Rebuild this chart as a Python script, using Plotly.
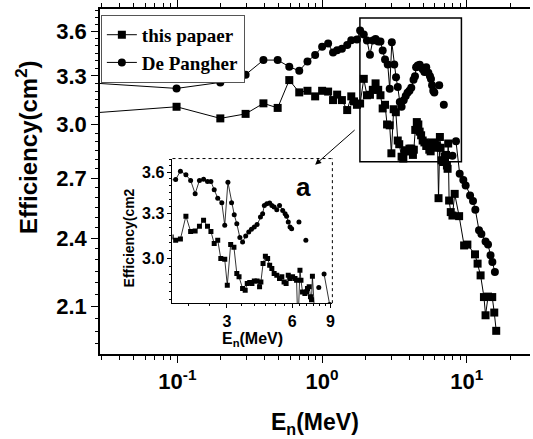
import math
import plotly.graph_objects as go

# ---------------- data ----------------
# "this papaer" (squares): neutron energy (MeV) and efficiency (cm^2)
x_this = [0.01, 0.0987, 0.198, 0.296, 0.393, 0.493, 0.593, 0.695, 0.792, 0.895, 1.0, 1.10,
          1.19, 1.27, 1.37, 1.49, 1.59, 1.66, 1.74, 1.83, 1.94, 2.04, 2.14, 2.24, 2.34, 2.44,
          2.53, 2.62, 2.72, 2.81, 2.93, 3.01, 3.12, 3.23, 3.33, 3.41, 3.54, 3.64, 3.72, 3.82,
          3.91, 4.01, 4.13, 4.24, 4.30, 4.40, 4.51, 4.62, 4.72, 4.83, 4.95, 5.09, 5.24, 5.37,
          5.50, 5.62, 5.75, 5.86, 6.02, 6.18, 6.28, 6.37, 6.51, 6.58, 6.69, 6.86, 6.98, 7.05,
          7.18, 7.28, 7.36, 7.43, 7.54, 7.74, 7.95, 8.24, 8.84, 9.57, 10.08, 11.38, 11.86,
          12.44, 13.12, 13.46, 14.0, 14.97, 15.46, 15.95]
y_this = [3.042, 3.106, 3.036, 3.063, 3.127, 3.099, 3.273, 3.195, 3.205, 3.170, 3.205, 3.200,
          3.147, 3.181, 3.147, 3.086, 3.170, 3.139, 3.118, 3.126, 3.281, 3.177, 3.180, 3.211,
          3.252, 3.211, 3.177, 3.096, 3.118, 3.000, 2.995, 2.835, 3.091, 3.073, 2.907, 2.886,
          2.816, 2.806, 2.846, 2.852, 2.846, 2.861, 2.861, 2.826, 2.855, 2.968, 3.014, 3.000,
          2.958, 2.937, 2.907, 2.896, 2.876, 2.886, 2.855, 2.846, 2.896, 2.876, 2.886, 2.876,
          2.866, 2.596, 2.927, 2.866, 2.796, 2.787, 2.796, 2.816, 2.826, 2.768, 2.750, 2.890,
          2.584, 2.526, 2.509, 2.618, 2.506, 2.366, 2.370, 2.325, 2.283, 2.231, 2.138, 2.063,
          2.140, 2.138, 2.074, 2.001]

# "De Pangher" (circles); None = break in the line
x_dp = [0.01, 0.0987, 0.198, 0.296, 0.393, 0.493, 0.593, 0.695, 0.792, 0.895, 1.0, 1.10,
        1.19, 1.27, 1.37, 1.49, 1.59, 1.74, 1.83, 1.94, 2.04, 2.14, 2.24, 2.34, 2.44, 2.53,
        2.62, 2.72, 2.84, 2.93, 3.03, 3.15, 3.24, 3.33, 3.44, 3.54, 3.66, 3.78, 3.89, 4.01,
        4.13, 4.28, 4.38, 4.46, 4.58, 4.72, 4.83, 4.95, 5.09, 5.24, 5.42, 5.56, 5.65, 5.75,
        5.86, 5.96, None, 6.44, None, 6.93, None, 7.95, None, 8.41, 8.92, 9.45, 9.81, 10.52,
        11.03, 11.44, 12.13, 12.6, 13.46, 14.0, 14.57, 15.0, 15.62]
y_dp = [3.279, 3.220, 3.258, 3.308, 3.404, 3.404, 3.360, 3.333, 3.395, 3.439, 3.494, 3.516,
        3.455, 3.471, 3.480, 3.507, 3.540, 3.545, 3.608, 3.580, 3.538, 3.440, 3.538, 3.547,
        3.530, 3.530, 3.469, 3.408, 3.375, 3.218, 3.525, 3.375, 3.291, 3.229, 3.136, 3.106,
        3.146, 3.173, 3.192, 3.206, 3.224, 3.275, 3.298, 3.356, 3.368, 3.373, 3.356, 3.344,
        3.326, 3.356, 3.321, 3.298, 3.280, 3.240, 3.206, 3.195, None, 3.240, None, 3.118,
        None, 2.822, None, 2.903, 2.723, 2.690, 2.662, 2.610, 2.581, 2.538, 2.437, 2.420,
        2.384, 2.370, 2.321, 2.290, 2.246]

names = ["this papaer", "De Pangher"]
y_ticks = [2.1, 2.4, 2.7, 3.0, 3.3, 3.6]
x_ticks = [0.1, 1, 10]
x_ticklabels = ["10<sup>-1</sup>", "10<sup>0</sup>", "10<sup>1</sup>"]
y_ticks_inset = [3.0, 3.3, 3.6]
x_ticks_inset = [3, 6, 9]
zoom_box_x = [1.824, 9.17]     # MeV, region enlarged in inset "a"
zoom_box_y = [2.789, 3.697]

# ---------------- figure ----------------
W, H = 533, 439
fig = go.Figure()

for xs, ys, sym, nm in [(x_this, y_this, "square", names[0]), (x_dp, y_dp, "circle", names[1])]:
    fig.add_trace(go.Scatter(x=xs, y=ys, mode="lines+markers", name=nm,
                             line=dict(color="black", width=1),
                             marker=dict(symbol=sym, size=8, color="black"),
                             connectgaps=False, xaxis="x", yaxis="y", cliponaxis=True))
    fig.add_trace(go.Scatter(x=xs, y=ys, mode="lines+markers", showlegend=False,
                             line=dict(color="black", width=0.8),
                             marker=dict(symbol=sym, size=5, color="black"),
                             connectgaps=False, xaxis="x2", yaxis="y2", cliponaxis=True))

AR = "Arial, Liberation Sans"
axis_font = dict(family=AR, size=22, color="black", weight="bold")
inset_font = dict(family=AR, size=16, color="black", weight="bold")

minor_y = [round(1.95 + 0.05 * i, 2) for i in range(0, 38)]
minor_x_inset = [2, 2.5, 3.5, 4, 4.5, 5, 5.5, 6.5, 7, 7.5, 8, 8.5]

fig.update_layout(
    width=W, height=H,
    margin=dict(l=100, r=0, t=8, b=85),
    paper_bgcolor="white", plot_bgcolor="white",
    showlegend=True,
    legend=dict(x=0.002, y=0.983, xanchor="left", yanchor="top",
                bordercolor="#555", borderwidth=1, bgcolor="white",
                font=dict(family="Liberation Serif", size=19, color="black", weight="bold"),
                itemwidth=30, tracegroupgap=0),
    xaxis=dict(type="log", range=[math.log10(0.0292), math.log10(27.3)],
               showline=True, linecolor="black", linewidth=1.5, mirror="ticks",
               ticks="outside", ticklen=7, tickwidth=1.2, tickcolor="black",
               tickvals=x_ticks, ticktext=x_ticklabels,
               showgrid=False, zeroline=False, tickfont=axis_font,
               minor=dict(ticks="outside", ticklen=4, tickcolor="black", showgrid=False,
                          tickvals=[m * 10 ** e for e in (-2, -1, 0, 1) for m in range(2, 10)])),
    yaxis=dict(type="log", range=[math.log10(1.912), math.log10(3.763)],
               showline=True, linecolor="black", linewidth=1.5,
               ticks="outside", ticklen=7, tickwidth=1.2, tickcolor="black",
               tickvals=y_ticks, ticktext=[f"{v:.1f}" for v in y_ticks],
               showgrid=False, zeroline=False, tickfont=axis_font,
               minor=dict(ticks="outside", ticklen=3, tickcolor="black",
                          tickvals=minor_y, showgrid=False)),
    xaxis2=dict(type="log", domain=[0.1686, 0.5404], anchor="y2",
                range=[0.226, 0.963], showline=True, linecolor="black", linewidth=1,
                ticks="outside", ticklen=4, tickcolor="black",
                tickvals=x_ticks_inset, ticktext=[str(v) for v in x_ticks_inset],
                showgrid=False, zeroline=False, tickfont=inset_font,
                minor=dict(ticks="outside", ticklen=2, tickcolor="black",
                           tickvals=minor_x_inset, showgrid=False)),
    yaxis2=dict(type="log", domain=[0.1474, 0.5665], anchor="x2",
                range=[0.4362, 0.5688], showline=True, linecolor="black", linewidth=1,
                ticks="outside", ticklen=4, tickcolor="black",
                tickvals=y_ticks_inset, ticktext=[f"{v:.1f}" for v in y_ticks_inset],
                showgrid=False, zeroline=False, tickfont=inset_font,
                minor=dict(ticks="outside", ticklen=2, tickcolor="black",
                           tickvals=minor_y, showgrid=False)),
)

# inset dotted top/right frame
fig.add_shape(type="line", xref="x2 domain", yref="y2 domain", x0=0, x1=1, y0=1, y1=1,
              line=dict(color="black", width=1, dash="dot"))
fig.add_shape(type="line", xref="x2 domain", yref="y2 domain", x0=1, x1=1, y0=0, y1=1,
              line=dict(color="black", width=1, dash="dot"))

# zoom box in main plot
fig.add_shape(type="rect", xref="x", yref="y",
              x0=zoom_box_x[0], x1=zoom_box_x[1], y0=zoom_box_y[0], y1=zoom_box_y[1],
              line=dict(color="black", width=1.5))

# arrow from box to inset
fig.add_annotation(xref="x", yref="y", x=math.log10(0.895), y=math.log10(2.772),
                   ax=41, ay=-36, showarrow=True, arrowhead=2, arrowsize=1.2,
                   arrowwidth=1, arrowcolor="black", text="")

# titles
fig.add_annotation(xref="paper", yref="paper", x=-0.17, y=0.6, xanchor="center", yanchor="middle",
                   text="Efficiency(cm<sup>2</sup>)", textangle=-90, showarrow=False,
                   font=dict(family=AR, size=24, color="black", weight="bold"))
fig.add_annotation(xref="paper", yref="paper", x=0.5, y=-0.2, xanchor="center", yanchor="middle",
                   text="E<sub>n</sub>(MeV)", showarrow=False,
                   font=dict(family=AR, size=23, color="black", weight="bold"))
# inset titles
fig.add_annotation(xref="x2 domain", yref="y2 domain", x=0.5, y=-0.17, xanchor="center", yanchor="top",
                   text="E<sub>n</sub>(MeV)", showarrow=False,
                   font=dict(family=AR, size=16, color="black", weight="bold"))
fig.add_annotation(xref="x2 domain", yref="y2 domain", x=-0.27, y=0.45, xanchor="center", yanchor="middle",
                   text="Efficiency(cm2", textangle=-90, showarrow=False,
                   font=dict(family=AR, size=14, color="black", weight="bold"))
fig.add_annotation(xref="x2 domain", yref="y2 domain", x=0.82, y=0.8, xanchor="center", yanchor="middle",
                   text="a", showarrow=False,
                   font=dict(family=AR, size=26, color="black", weight="bold"))

fig.write_html("out.html")
